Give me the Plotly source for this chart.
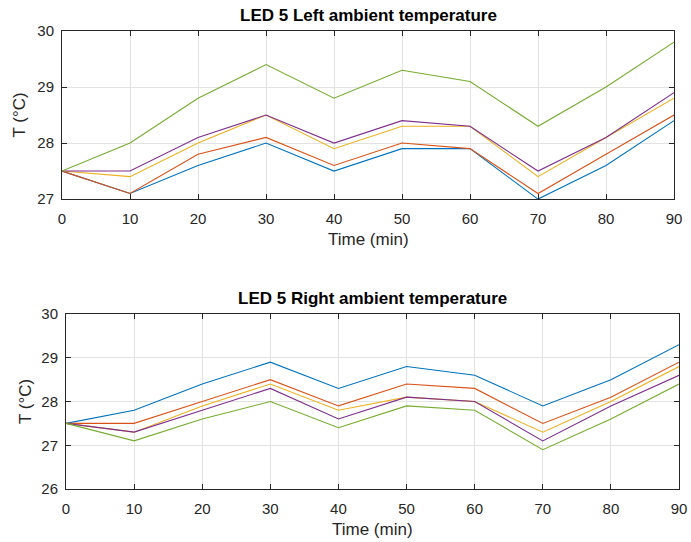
import plotly.graph_objects as go

# Sample times (min)
time_min = [0, 10, 20, 30, 40, 50, 60, 70, 80, 90]

# LED 5 left ambient temperature (°C)
left_blue = [27.5, 27.1, 27.6, 28.0, 27.5, 27.9, 27.9, 27.0, 27.6, 28.4]
left_orange = [27.5, 27.1, 27.8, 28.1, 27.6, 28.0, 27.9, 27.1, 27.8, 28.5]
left_yellow = [27.5, 27.4, 28.0, 28.5, 27.9, 28.3, 28.3, 27.4, 28.1, 28.8]
left_purple = [27.5, 27.5, 28.1, 28.5, 28.0, 28.4, 28.3, 27.5, 28.1, 28.9]
left_green = [27.5, 28.0, 28.8, 29.4, 28.8, 29.3, 29.1, 28.3, 29.0, 29.8]

# LED 5 right ambient temperature (°C)
right_blue = [27.5, 27.8, 28.4, 28.9, 28.3, 28.8, 28.6, 27.9, 28.5, 29.3]
right_orange = [27.5, 27.5, 28.0, 28.5, 27.9, 28.4, 28.3, 27.5, 28.1, 28.9]
right_yellow = [27.5, 27.3, 27.9, 28.4, 27.8, 28.1, 28.0, 27.3, 28.0, 28.8]
right_purple = [27.5, 27.3, 27.8, 28.3, 27.6, 28.1, 28.0, 27.1, 27.9, 28.6]
right_green = [27.5, 27.1, 27.6, 28.0, 27.4, 27.9, 27.8, 26.9, 27.6, 28.4]

x_ticks = [0, 10, 20, 30, 40, 50, 60, 70, 80, 90]
left_y_ticks = [27, 28, 29, 30]
right_y_ticks = [26, 27, 28, 29, 30]

colors = ["#0072BD", "#D95319", "#EDB120", "#7E2F8E", "#77AC30"]

left_series = [left_blue, left_orange, left_yellow, left_purple, left_green]
right_series = [right_blue, right_orange, right_yellow, right_purple, right_green]

FONT = "Liberation Sans, Arial, sans-serif"
AXIS_COLOR = "#262626"
GRID_COLOR = "#e3e3e3"

fig = go.Figure()

for ys, c in zip(left_series, colors):
    fig.add_trace(go.Scatter(x=time_min, y=ys, mode="lines",
                             line=dict(color=c, width=1.1),
                             xaxis="x", yaxis="y", showlegend=False))
for ys, c in zip(right_series, colors):
    fig.add_trace(go.Scatter(x=time_min, y=ys, mode="lines",
                             line=dict(color=c, width=1.1),
                             xaxis="x2", yaxis="y2", showlegend=False))

common_x = dict(
    range=[0, 90], tickvals=x_ticks, ticks="inside", ticklen=5,
    tickcolor=AXIS_COLOR, showline=True, linecolor=AXIS_COLOR, linewidth=1,
    mirror="ticks", showgrid=True, gridcolor=GRID_COLOR, gridwidth=1,
    zeroline=False, tickfont=dict(family=FONT, size=15, color=AXIS_COLOR),
    ticklabelstandoff=6, automargin=False,
)
common_y = dict(
    ticks="inside", ticklen=5, tickcolor=AXIS_COLOR, showline=True,
    linecolor=AXIS_COLOR, linewidth=1, mirror="ticks", showgrid=True,
    gridcolor=GRID_COLOR, gridwidth=1, zeroline=False,
    tickfont=dict(family=FONT, size=15, color=AXIS_COLOR),
    ticklabelstandoff=4, automargin=False,
)

label_font = dict(family=FONT, size=17, color=AXIS_COLOR)
title_font = dict(family=FONT, size=17, color="black")

fig.update_layout(
    width=691, height=542, autosize=False,
    margin=dict(l=62, r=12, t=31, b=53, pad=0),
    plot_bgcolor="white", paper_bgcolor="white",
    xaxis=dict(common_x, domain=[0, 0.9919], anchor="y"),
    yaxis=dict(common_y, domain=[0.633, 1.0], range=[27, 30],
               tickvals=left_y_ticks, anchor="x"),
    xaxis2=dict(common_x, domain=[0.0065, 1], anchor="y2"),
    yaxis2=dict(common_y, domain=[0.0, 0.382], range=[26, 30],
                tickvals=right_y_ticks, anchor="x2"),
    annotations=[
        dict(text="<b>LED 5 Left ambient temperature</b>", xref="paper", yref="paper",
             x=0.496, y=1.033, xanchor="center", yanchor="middle", showarrow=False,
             font=title_font),
        dict(text="<b>LED 5 Right ambient temperature</b>", xref="paper", yref="paper",
             x=0.503, y=0.417, xanchor="center", yanchor="middle", showarrow=False,
             font=title_font),
        dict(text="Time (min)", xref="paper", yref="paper",
             x=0.496, y=0.5437, xanchor="center", yanchor="middle", showarrow=False,
             font=label_font),
        dict(text="Time (min)", xref="paper", yref="paper",
             x=0.503, y=-0.0895, xanchor="center", yanchor="middle", showarrow=False,
             font=label_font),
        dict(text="T (°C)", xref="paper", yref="paper", textangle=-90,
             x=-0.0673, y=0.8166, xanchor="center", yanchor="middle", showarrow=False,
             font=label_font),
        dict(text="T (°C)", xref="paper", yref="paper", textangle=-90,
             x=-0.0592, y=0.191, xanchor="center", yanchor="middle", showarrow=False,
             font=label_font),
    ],
)

fig.write_html("out.html")
